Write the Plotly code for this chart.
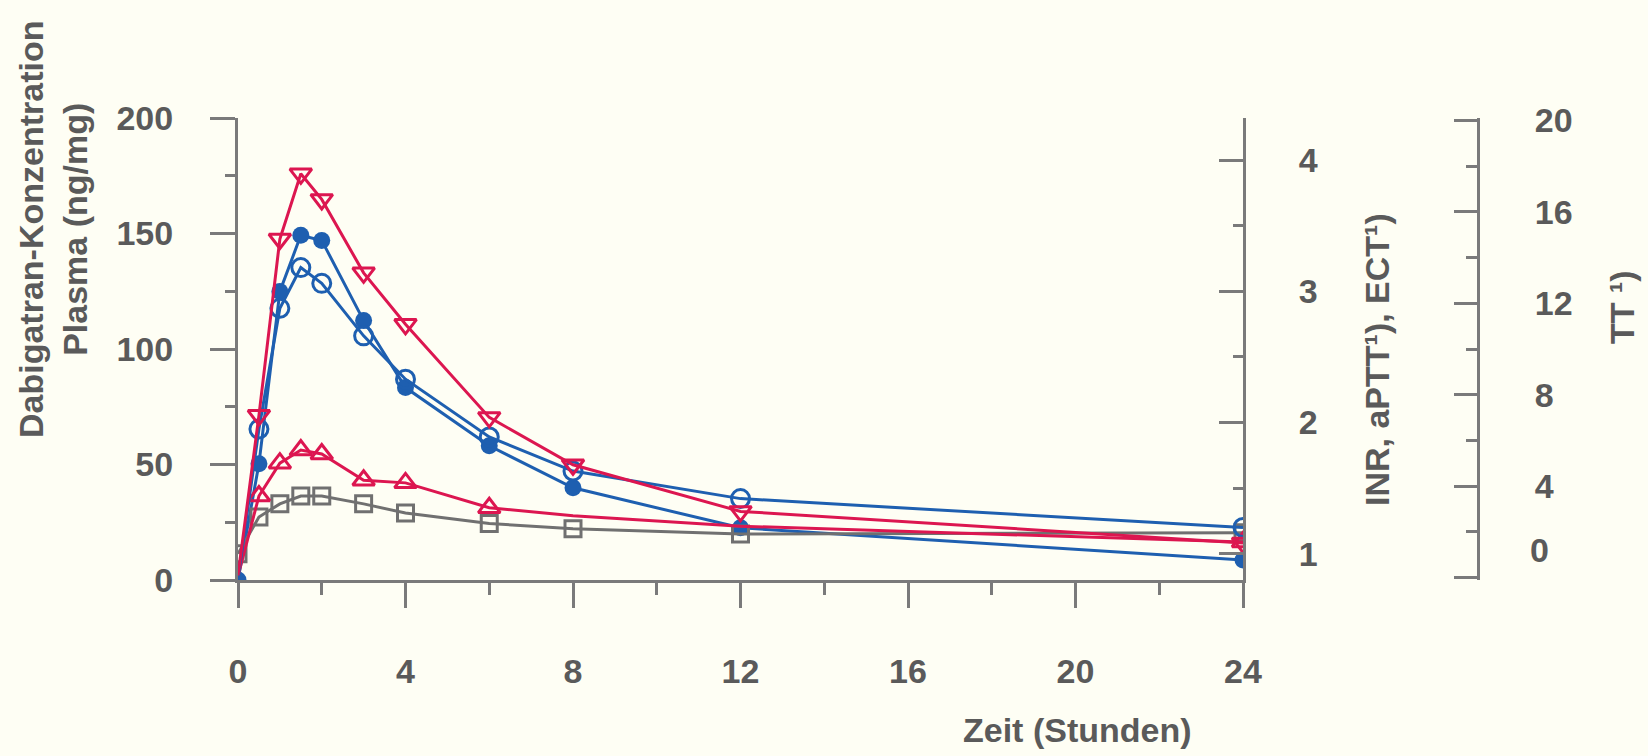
import plotly.graph_objects as go

# Zeitpunkte (Stunden)
zeit = [0, 0.5, 1, 1.5, 2, 3, 4, 6, 8, 12, 24]

# Dabigatran-Konzentration im Plasma (ng/ml) – linke Achse
dabigatran = [0, 50.3, 124.9, 149.2, 147.0, 112.3, 83.3, 58.1, 39.9, 22.6, 8.7]
# ECT (Ratio) – rechte Achse 1
ect = [0.81, 1.95, 2.87, 3.18, 3.06, 2.66, 2.33, 1.89, 1.63, 1.42, 1.20]
# aPTT (Ratio) – rechte Achse 1
aptt = [0.83, 1.44, 1.69, 1.79, 1.76, 1.56, 1.54, 1.35, 1.29, 1.21, 1.09]
# INR – rechte Achse 1
inr = [1.00, 1.28, 1.38, 1.44, 1.44, 1.38, 1.31, 1.23, 1.19, 1.15, 1.16]
# TT (Ratio) – rechte Achse 2
tt = [0.1, 7.10, 14.81, 17.66, 16.54, 13.33, 11.08, 7.01, 4.94, 2.90, 1.52]

x_ticks = [0, 4, 8, 12, 16, 20, 24]
y_ticks = [0, 50, 100, 150, 200]
y2_ticks = [1, 2, 3, 4]
y3_ticks = [0, 4, 8, 12, 16, 20]
y3_ticktext = ["", "4", "8", "12", "16", "20"]

# Styles
BLUE = "#1e5fb0"
RED = "#dc1650"
GRAY = "#707070"
AXIS = "#7a7a7a"
TEXT = "#5a5a5a"
BG = "#fefef4"
FONT = "Liberation Sans"
FS = 34
LW = 3
ect_sizes = [0, 18, 18, 18, 18, 18, 18, 18, 18, 18, 18]
aptt_sizes = [0, 19, 19, 19, 19, 19, 19, 19, 0, 0, 19]
tt_sizes = [0, 19, 19, 19, 19, 19, 19, 19, 19, 19, 19]

W, H = 1648, 756
L, R, T, B = 238, 170, 118, 176
PW = W - L - R
PH = H - T - B
X_END = 1243


def px_x(p):
    return (p - L) / PW


def px_y(p):
    return (H - B - p) / PH


fig = go.Figure()

fig.add_trace(go.Scatter(
    x=zeit, y=dabigatran, name="Dabigatran", mode="lines+markers", yaxis="y",
    line=dict(color=BLUE, width=LW),
    marker=dict(symbol="circle", size=17, color=BLUE, opacity=1, line=dict(color=BLUE, width=0)),
))
fig.add_trace(go.Scatter(
    x=zeit, y=inr, name="INR", mode="lines+markers", yaxis="y2",
    line=dict(color=GRAY, width=LW),
    marker=dict(symbol="square-open", size=16, color=GRAY, opacity=1, line=dict(color=GRAY, width=LW)),
))
fig.add_trace(go.Scatter(
    x=zeit, y=aptt, name="aPTT", mode="lines+markers", yaxis="y2",
    line=dict(color=RED, width=LW),
    marker=dict(symbol="triangle-up-open", size=aptt_sizes, color=RED, opacity=1,
                line=dict(color=RED, width=LW)),
))
fig.add_trace(go.Scatter(
    x=zeit, y=ect, name="ECT", mode="lines+markers", yaxis="y2",
    line=dict(color=BLUE, width=LW),
    marker=dict(symbol="circle-open", size=ect_sizes, color=BLUE, opacity=1,
                line=dict(color=BLUE, width=LW)),
))
fig.add_trace(go.Scatter(
    x=zeit, y=tt, name="TT", mode="lines+markers", yaxis="y3",
    line=dict(color=RED, width=LW),
    marker=dict(symbol="triangle-down-open", size=tt_sizes, color=RED, opacity=1,
                line=dict(color=RED, width=LW)),
))

tickfont = dict(family=FONT, size=FS, color=TEXT, weight="bold")

fig.update_layout(
    template="none",
    width=W, height=H,
    margin=dict(l=L, r=R, t=T, b=B, pad=0),
    paper_bgcolor=BG, plot_bgcolor=BG,
    showlegend=False,
    xaxis=dict(
        domain=[0, (X_END - L) / PW], range=[0, 24], tickvals=x_ticks,
        showgrid=False, zeroline=False, showline=True, linecolor=AXIS, linewidth=3,
        ticks="outside", ticklen=25, tickwidth=3, tickcolor=AXIS,
        minor=dict(dtick=2, tick0=0, ticks="outside", ticklen=12, tickwidth=2.5, tickcolor=AXIS, showgrid=False),
        tickfont=tickfont, ticklabelstandoff=34, automargin=False,
    ),
    yaxis=dict(
        range=[0, 200], tickvals=y_ticks,
        showgrid=False, zeroline=False, showline=True, linecolor=AXIS, linewidth=3,
        ticks="outside", ticklen=25, tickwidth=3, tickcolor=AXIS,
        minor=dict(dtick=25, tick0=0, ticks="outside", ticklen=10, tickwidth=2.5, tickcolor=AXIS, showgrid=False),
        tickfont=tickfont, ticklabelstandoff=30, automargin=False,
    ),
    yaxis2=dict(
        overlaying="y", side="right", anchor="x", range=[0.8, 4.32], tickvals=y2_ticks,
        showgrid=False, zeroline=False, showline=True, linecolor=AXIS, linewidth=3,
        ticks="inside", ticklen=24, tickwidth=3, tickcolor=AXIS,
        minor=dict(dtick=0.5, tick0=0, ticks="inside", ticklen=10, tickwidth=2.5, tickcolor=AXIS, showgrid=False),
        tickfont=tickfont, ticklabelstandoff=46, automargin=False,
    ),
    yaxis3=dict(
        overlaying="y", side="right", anchor="free", position=1.0, range=[-0.1, 20.1],
        tickvals=y3_ticks, ticktext=y3_ticktext,
        showgrid=False, zeroline=False, showline=True, linecolor=AXIS, linewidth=3,
        ticks="inside", ticklen=23, tickwidth=3, tickcolor=AXIS,
        minor=dict(dtick=2, tick0=0, ticks="inside", ticklen=11, tickwidth=2.5, tickcolor=AXIS, showgrid=False),
        tickfont=tickfont, ticklabelstandoff=48, automargin=False,
    ),
)

titlefont = dict(family=FONT, size=FS, color=TEXT, weight="bold")
fig.add_annotation(
    text="Dabigatran-Konzentration<br>Plasma (ng/mg)", textangle=-90,
    xref="paper", yref="paper", x=px_x(53), y=px_y(230),
    xanchor="center", yanchor="middle", showarrow=False, align="center", font=titlefont,
)
fig.add_annotation(
    text="Zeit (Stunden)", xref="paper", yref="paper", x=px_x(1077), y=px_y(730),
    xanchor="center", yanchor="middle", showarrow=False, font=titlefont,
)
fig.add_annotation(
    text="INR, aPTT¹), ECT¹)", textangle=-90, xref="paper", yref="paper",
    x=px_x(1377), y=px_y(360), xanchor="center", yanchor="middle", showarrow=False, font=titlefont,
)
fig.add_annotation(
    text="TT ¹)", textangle=-90, xref="paper", yref="paper",
    x=px_x(1622), y=px_y(307), xanchor="center", yanchor="middle", showarrow=False, font=titlefont,
)
fig.add_annotation(
    text="0", xref="paper", yref="y3", x=px_x(1528), y=1.2,
    xanchor="left", yanchor="middle", showarrow=False, font=titlefont,
)

fig.write_html("out.html")
